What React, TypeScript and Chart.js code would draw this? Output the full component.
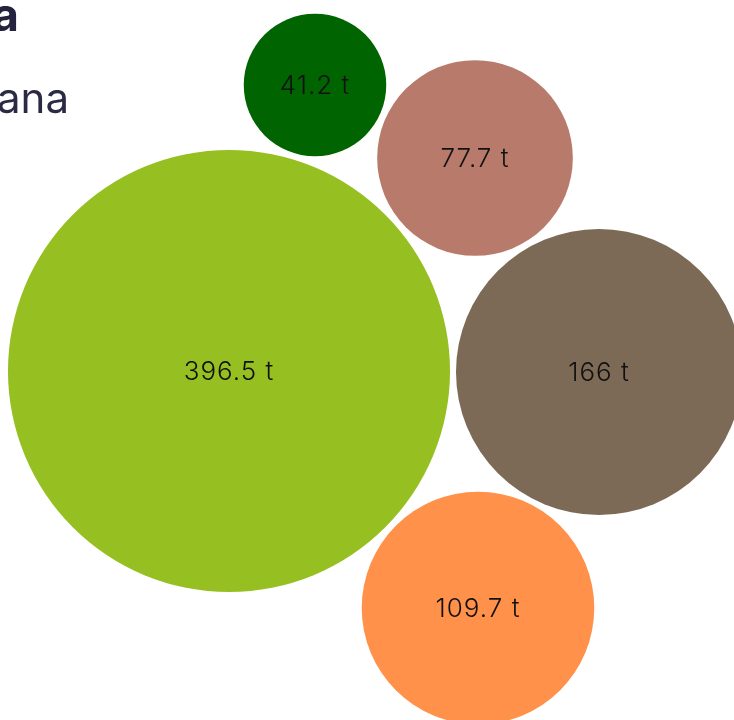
import React, { useEffect, useRef } from "react";
import { Chart, registerables } from "chart.js";

Chart.register(...registerables);

const categories = ["Item 1", "Item 2", "Item 3", "Item 4", "Item 5"];
const values = [396.5, 41.2, 77.7, 166, 109.7];
const unit = "t";
const xPos = [229, 315, 475, 599, 478];
const yPos = [371, 85, 158, 372, 608];
const colors = ["#96C021", "#006400", "#B87B6B", "#7C6A57", "#FF914A"];
const titleText = "Produção de fruta";
const subtitleText = "Produção de banana";

const W = 734;
const H = 720;
const radiusScale = 11.1;

const labelPlugin = {
  id: "bubbleLabels",
  afterDatasetsDraw(chart: any) {
    const ctx = chart.ctx;
    const meta = chart.getDatasetMeta(0);
    ctx.save();
    ctx.fillStyle = "#111111";
    ctx.font = "300 26px Inter, 'Open Sans', sans-serif";
    (ctx as any).letterSpacing = "1px";
    ctx.textAlign = "center";
    ctx.textBaseline = "middle";
    meta.data.forEach((el: any, i: number) => {
      ctx.fillText(`${values[i]} ${unit}`, el.x, el.y + 1);
    });
    ctx.restore();
  },
};

export default function App() {
  const ref = useRef<HTMLCanvasElement | null>(null);
  useEffect(() => {
    document.body.style.margin = "0";
    if (!ref.current) return;
    const chart = new Chart(ref.current, {
      type: "bubble",
      data: {
        labels: categories,
        datasets: [
          {
            data: values.map((v, i) => ({ x: xPos[i], y: yPos[i], r: radiusScale * Math.sqrt(v) })),
            backgroundColor: colors,
            hoverBackgroundColor: colors,
            borderWidth: 0,
            clip: false as any,
          },
        ],
      },
      options: {
        animation: false,
        responsive: false,
        events: [],
        layout: { padding: 0, autoPadding: false },
        plugins: { legend: { display: false }, tooltip: { enabled: false }, title: { display: false } },
        scales: {
          x: { type: "linear", min: 0, max: W, display: false },
          y: { type: "linear", min: 0, max: H, reverse: true, display: false },
        },
      },
      plugins: [labelPlugin],
    });
    return () => chart.destroy();
  }, []);

  return (
    <div style={{ position: "relative", width: W, height: H, overflow: "hidden", background: "#fff" }}>
      <canvas ref={ref} width={W} height={H} style={{ position: "absolute", left: 0, top: 0 }} />
      <div
        style={{
          position: "absolute",
          right: W - 19,
          top: -11,
          whiteSpace: "nowrap",
          fontFamily: "Inter, 'Open Sans', sans-serif",
          fontWeight: 700,
          fontSize: 46,
          lineHeight: "50px",
          color: "#23233F",
        }}
      >
        {titleText}
      </div>
      <div
        style={{
          position: "absolute",
          right: W - 69,
          top: 74,
          whiteSpace: "nowrap",
          fontFamily: "Inter, 'Open Sans', sans-serif",
          fontWeight: 400,
          fontSize: 42,
          lineHeight: "48px",
          color: "#2A2A45",
        }}
      >
        {subtitleText}
      </div>
    </div>
  );
}
